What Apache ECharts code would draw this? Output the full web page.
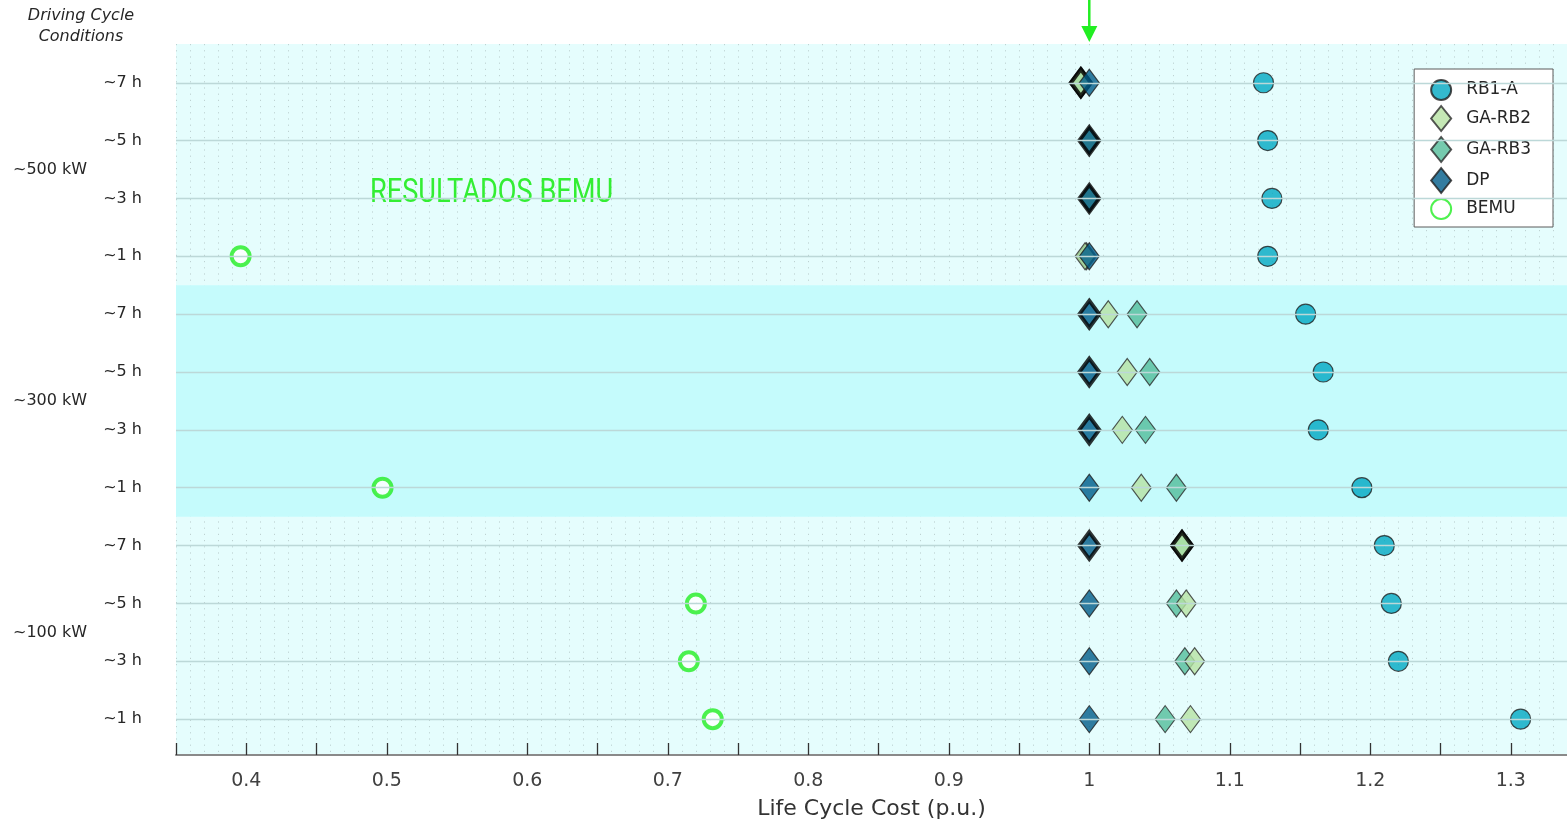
<!DOCTYPE html>
<html>
<head>
<meta charset="utf-8">
<title>Life Cycle Cost by Driving Cycle</title>
<script src="https://cdn.jsdelivr.net/npm/echarts@6/dist/echarts.min.js"></script>
<style>
  html, body { margin: 0; padding: 0; background: #ffffff; }
  #chart { width: 1567px; height: 822px; }
</style>
</head>
<body>
<div id="chart"></div>
<script>
// Rows from top to bottom: driving-cycle duration within each power class
const rowLabels = ['~7 h', '~5 h', '~3 h', '~1 h',
                   '~7 h', '~5 h', '~3 h', '~1 h',
                   '~7 h', '~5 h', '~3 h', '~1 h'];
const powerClasses = ['~500 kW', '~300 kW', '~100 kW'];

// Life cycle cost (p.u.) per row
const rb1a  = [1.124, 1.127, 1.130, 1.127, 1.154, 1.1665, 1.163, 1.194, 1.210, 1.215, 1.220, 1.307];
const gaRb2 = [0.994, 1.000, 1.000, 0.997, 1.0135, 1.027, 1.0235, 1.037, 1.066, 1.069, 1.075, 1.072];
const gaRb3 = [0.994, 1.000, 1.000, 0.998, 1.034, 1.043, 1.040, 1.062, 1.066, 1.062, 1.068, 1.054];
const dp    = [1.000, 1.000, 1.000, 1.000, 1.000, 1.000, 1.000, 1.000, 1.000, 1.000, 1.000, 1.000];
const bemu  = [null, null, null, 0.396, null, null, null, 0.497, null, 0.720, 0.715, 0.732];

// Reference cost level marked by the arrow above the plot
const referenceCost = 1.0;

// Markers drawn with a heavy outline (row indices)
const heavyOutline = {
  'GA-RB2': [0, 8],
  'GA-RB3': [0, 8],
  'DP': [1, 2, 4, 5, 6, 8]
};

const FONT = 'DejaVu Sans, Verdana, sans-serif';
const rowIdx = rowLabels.map((_, i) => i);

function points(values, name) {
  const heavy = heavyOutline[name] || [];
  const out = [];
  values.forEach((v, i) => {
    if (v === null) return;
    const item = { value: [v, i] };
    if (heavy.includes(i)) item.itemStyle = { borderWidth: 4, borderColor: '#000000' };
    out.push(item);
  });
  return out;
}

const diamondSize = [20, 27];
const gridDots = { color: '#bed2d2', type: [1.2, 5], width: 1 };

const chart = echarts.init(document.getElementById('chart'), null, { renderer: 'canvas' });

const option = {
  animation: false,
  backgroundColor: '#ffffff',
  grid: {
    left: 176, right: 0, top: 44, bottom: 67,
    outerBoundsMode: 'none',
    containLabel: false,
    show: true, backgroundColor: '#e5fdfd', borderWidth: 0
  },
  xAxis: {
    type: 'value',
    min: 0.35, max: 1.34, interval: 0.05,
    name: 'Life Cycle Cost (p.u.)',
    nameLocation: 'middle', nameGap: 43,
    nameTextStyle: { fontFamily: FONT, fontSize: 22, color: '#333333' },
    axisLine: { show: true, onZero: false, lineStyle: { color: '#8a8a8a', width: 2 } },
    axisTick: { show: true, inside: true, length: 12, lineStyle: { color: '#333333', width: 1.3 } },
    axisLabel: {
      fontFamily: FONT, fontSize: 19, color: '#404040', margin: 17,
      showMaxLabel: false,
      formatter: v => {
        const k = Math.round(v * 100);
        return k % 10 === 0 ? String(k / 100) : '';
      }
    },
    splitLine: { show: true, lineStyle: gridDots },
    minorTick: { show: false, splitNumber: 5 },
    minorSplitLine: { show: true, lineStyle: gridDots }
  },
  yAxis: {
    type: 'value',
    inverse: true,
    min: -0.67, max: 11.62,
    axisLine: { show: false },
    axisTick: { show: false },
    splitLine: { show: false },
    axisLabel: {
      customValues: rowIdx,
      formatter: v => rowLabels[Math.round(v)] || '',
      fontFamily: FONT, fontSize: 16, color: '#262626', margin: 34
    }
  },
  legend: {
    orient: 'vertical',
    right: 14, top: 69,
    data: ['RB1-A', 'GA-RB2', 'GA-RB3', 'DP', 'BEMU'],
    backgroundColor: '#ffffff',
    borderColor: '#5a5a5a', borderWidth: 1,
    padding: [10, 22, 7, 16],
    itemWidth: 20, itemHeight: 25, itemGap: 4,
    textStyle: { fontFamily: FONT, fontSize: 17, color: '#262626', padding: [0, 0, 0, 10] }
  },
  series: [
    {
      // row gridlines and the highlighted 300 kW band
      type: 'scatter', name: '_bg', data: [], silent: true,
      markArea: {
        silent: true,
        itemStyle: { color: '#c5fbfc' },
        data: [[{ yAxis: 3.5 }, { yAxis: 7.5 }]]
      },
      markLine: {
        silent: true, symbol: 'none', animation: false,
        label: { show: false },
        lineStyle: { color: '#bcd8d8', type: 'solid', width: 1.3 },
        data: rowIdx.map(i => ({ yAxis: i }))
      }
    },
    {
      type: 'scatter', name: 'RB1-A', symbol: 'circle', symbolSize: 20,
      itemStyle: { color: '#00a8c2', borderColor: '#1e1e1e', borderWidth: 1.2 },
      data: points(rb1a, 'RB1-A')
    },
    {
      type: 'scatter', name: 'GA-RB3', symbol: 'diamond', symbolSize: diamondSize,
      itemStyle: { color: '#52bd9a', borderColor: '#2a2a2a', borderWidth: 1.2 },
      data: points(gaRb3, 'GA-RB3')
    },
    {
      type: 'scatter', name: 'GA-RB2', symbol: 'diamond', symbolSize: diamondSize,
      itemStyle: { color: '#b6e2a2', borderColor: '#2a2a2a', borderWidth: 1.2 },
      data: points(gaRb2, 'GA-RB2')
    },
    {
      type: 'scatter', name: 'DP', symbol: 'diamond', symbolSize: diamondSize,
      itemStyle: { color: '#005b88', borderColor: '#1e1e1e', borderWidth: 1.2 },
      data: points(dp, 'DP')
    },
    {
      type: 'scatter', name: 'BEMU', symbol: 'circle', symbolSize: 18,
      itemStyle: { color: '#ffffff', borderColor: '#22ee22', borderWidth: 4 },
      data: points(bemu, 'BEMU')
    }
  ]
};

chart.setOption(option);

// Annotations placed through the axes' own scales
const xRef = chart.convertToPixel({ xAxisIndex: 0 }, referenceCost);
const yOf = r => chart.convertToPixel({ yAxisIndex: 0 }, r);

chart.setOption({
  graphic: [
    {
      type: 'text', x: 0, y: 5,
      style: {
        text: 'Driving Cycle\nConditions', x: 81, y: 0,
        fontFamily: FONT, fontStyle: 'italic', fontSize: 16, lineHeight: 21,
        fill: '#262626', align: 'center'
      }
    },
    ...powerClasses.map((txt, g) => ({
      type: 'text',
      x: 13, y: yOf(g * 4 + 1.5),
      style: {
        text: txt, fontFamily: FONT, fontSize: 16, fill: '#262626',
        verticalAlign: 'middle'
      }
    })),
    {
      type: 'text', x: 370, y: yOf(1.92),
      scaleX: 0.8,
      style: {
        text: 'RESULTADOS BEMU', fontFamily: 'Roboto, sans-serif', fontSize: 34,
        fill: '#33ee33', verticalAlign: 'middle'
      }
    },
    {
      type: 'line',
      shape: { x1: xRef, y1: 0, x2: xRef, y2: 30 },
      style: { stroke: '#22ee22', lineWidth: 2.5 }
    },
    {
      type: 'polygon',
      shape: { points: [[xRef - 8, 26], [xRef + 8, 26], [xRef, 42]] },
      style: { fill: '#22ee22' }
    }
  ]
});
</script>
</body>
</html>
